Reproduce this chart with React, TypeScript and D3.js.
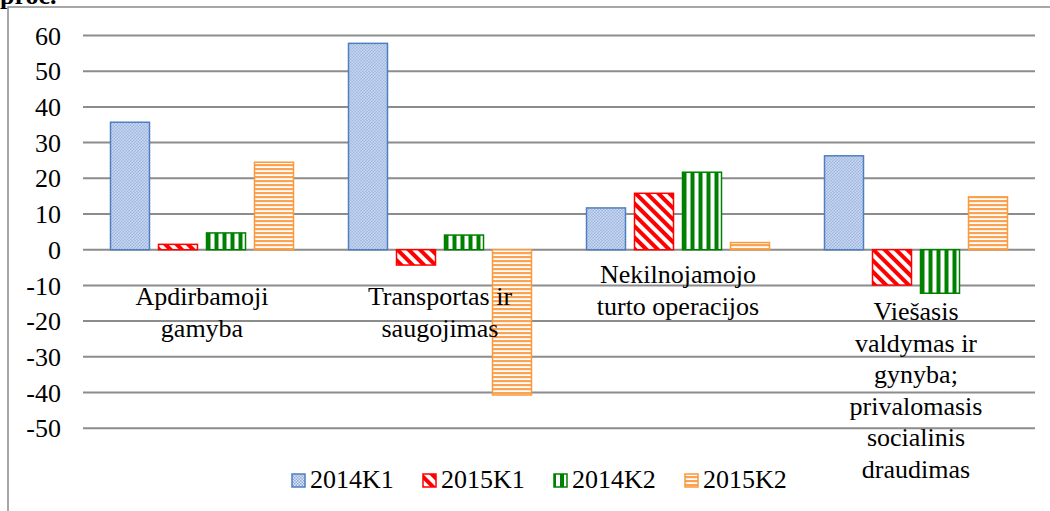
import * as d3 from 'd3';

// Chart data (percent change)
const categories = [
  'Apdirbamoji gamyba',
  'Transportas ir saugojimas',
  'Nekilnojamojo turto operacijos',
  'Viešasis valdymas ir gynyba; privalomasis socialinis draudimas',
];
const labelLines = [
  ['Apdirbamoji', 'gamyba'],
  ['Transportas ir', 'saugojimas'],
  ['Nekilnojamojo', 'turto operacijos'],
  ['Viešasis', 'valdymas ir', 'gynyba;', 'privalomasis', 'socialinis', 'draudimas'],
];
const seriesNames = ['2014K1', '2015K1', '2014K2', '2015K2'];
const v2014K1 = [35.7, 57.8, 11.7, 26.3];
const v2015K1 = [1.5, -4.3, 15.8, -9.9];
const v2014K2 = [4.7, 4.1, 21.7, -12.2];
const v2015K2 = [24.5, -40.7, 2.0, 14.8];
const yTicks = [60, 50, 40, 30, 20, 10, 0, -10, -20, -30, -40, -50];

const seriesValues = [v2014K1, v2015K1, v2014K2, v2015K2];
const strokes = ['#4f7fc0', '#ff0000', '#008000', '#f99a3c'];
const fills = ['url(#pBlue)', 'url(#pRed)', 'url(#pGreen)', 'url(#pOrange)'];

// label baselines per category (first line), layout only
const labelTop = [305, 305, 283, 320];
const lineH = 31.5;

const font =
  "'Liberation Serif', 'Times New Roman', Times, Tinos, 'Noto Serif', 'DejaVu Serif', 'Nimbus Roman', FreeSerif, serif";
const txt = { fontFamily: font, fill: '#000' };

export default function App() {
  const width = 1050;
  const height = 511;
  const plotLeft = 83;
  const plotRight = 1035;

  const y = d3.scaleLinear().domain([-50, 60]).range([428.2, 35.5]);
  const x0 = d3.scaleBand<string>().domain(categories).range([plotLeft, plotRight]);
  const groupW = 183;
  const x1 = d3
    .scaleBand<string>()
    .domain(seriesNames)
    .range([0, groupW])
    .paddingInner(9 / 48)
    .paddingOuter(0);
  const groupOffset = (x0.bandwidth() - groupW) / 2;

  const legendX = d3.scaleBand<string>().domain(seriesNames).range([291, 815]);

  return (
    <svg
      width={width}
      height={height}
      style={{ position: 'absolute', left: 0, top: 0, background: '#fff', fontFamily: font }}
    >
      <defs>
        <pattern id="pBlue" width="3" height="3" patternUnits="userSpaceOnUse">
          <rect width="3" height="3" fill="#dfe8f6" />
          <rect width="1.5" height="1.5" fill="#8aa8da" />
          <rect x="1.5" y="1.5" width="1.5" height="1.5" fill="#8aa8da" />
        </pattern>
        <pattern
          id="pRed"
          width="8"
          height="8"
          patternUnits="userSpaceOnUse"
          patternTransform="rotate(-45)"
        >
          <rect width="8" height="8" fill="#fff" />
          <rect width="4" height="8" fill="#ff0000" />
        </pattern>
        <pattern id="pGreen" width="8" height="8" patternUnits="userSpaceOnUse">
          <rect width="8" height="8" fill="#fff" />
          <rect width="4" height="8" fill="#008000" />
        </pattern>
        <pattern id="pOrange" width="4" height="4" patternUnits="userSpaceOnUse">
          <rect width="4" height="4" fill="#fff" />
          <rect width="4" height="2.2" fill="#fba352" />
        </pattern>
      </defs>

      {/* "proc." unit label, cut at the top as in the source */}
      <text x={0} y={4} fontSize={26} fontWeight="bold" style={txt}>
        proc.
      </text>

      {/* chart frame */}
      <rect x={8} y={7} width={1100} height={600} fill="none" stroke="#8a8a8a" strokeWidth={1.5} />

      {/* gridlines and tick labels */}
      {yTicks.map((t) => (
        <g key={t}>
          <line
            x1={plotLeft}
            x2={plotRight}
            y1={y(t)}
            y2={y(t)}
            stroke="#8c8c8c"
            strokeWidth={2}
          />
          <text x={61} y={y(t)} dy="0.35em" textAnchor="end" fontSize={26} style={txt}>
            {t}
          </text>
        </g>
      ))}

      {/* bars */}
      {categories.map((c, ci) => (
        <g key={c} transform={`translate(${(x0(c) ?? 0) + groupOffset},0)`}>
          {seriesNames.map((s, si) => {
            const v = seriesValues[si][ci];
            return (
              <rect
                key={s}
                x={x1(s)}
                y={y(Math.max(0, v))}
                width={x1.bandwidth()}
                height={Math.abs(y(v) - y(0))}
                fill={fills[si]}
                stroke={strokes[si]}
                strokeWidth={1.5}
              />
            );
          })}
        </g>
      ))}

      {/* category labels */}
      {categories.map((c, ci) => {
        const cx = (x0(c) ?? 0) + x0.bandwidth() / 2;
        return (
          <text key={c} x={cx} y={labelTop[ci]} textAnchor="middle" fontSize={26} style={txt}>
            {labelLines[ci].map((l, li) => (
              <tspan key={li} x={cx} y={labelTop[ci] + li * lineH}>
                {l}
              </tspan>
            ))}
          </text>
        );
      })}

      {/* legend */}
      {seriesNames.map((s, si) => {
        const lx = legendX(s) ?? 0;
        return (
          <g key={s}>
            <rect
              x={lx + 1}
              y={474}
              width={13}
              height={13}
              fill={fills[si]}
              stroke={strokes[si]}
              strokeWidth={1.5}
            />
            <text x={lx + 19} y={488} fontSize={26} style={txt}>
              {s}
            </text>
          </g>
        );
      })}
    </svg>
  );
}
